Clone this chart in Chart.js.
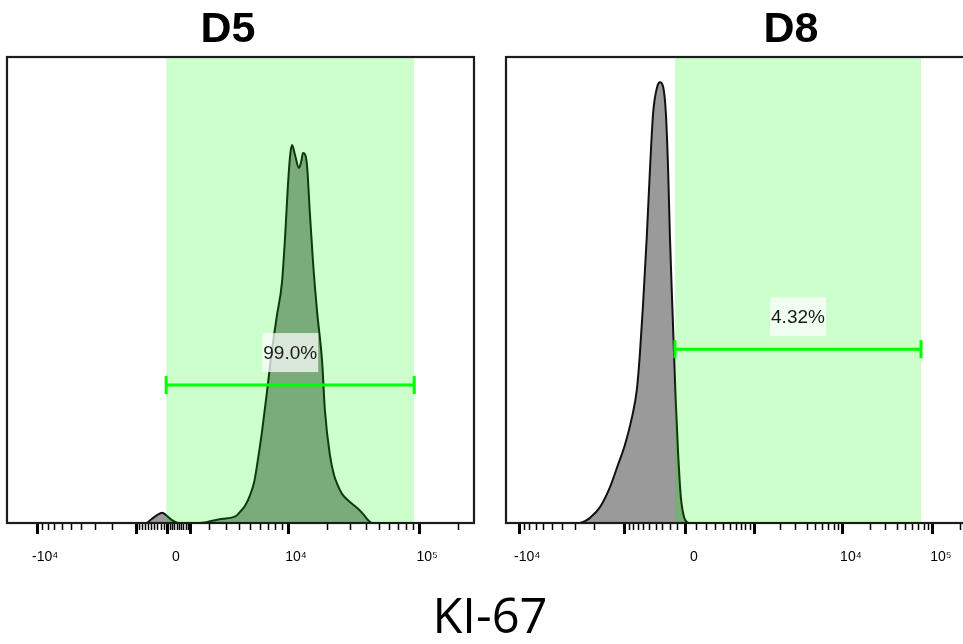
<!DOCTYPE html>
<html>
<head>
<meta charset="utf-8">
<script src="https://cdn.jsdelivr.net/npm/chart.js@4.4.1/dist/chart.umd.min.js"></script>
<style>
  html, body { margin: 0; padding: 0; width: 963px; height: 644px; overflow: hidden; background: #fff; }
  .panel { position: absolute; top: 0; height: 600px; }
  #p1 { left: 0; width: 490px; }
  #p2 { left: 490px; width: 500px; }
  .title { position: absolute; top: 6px; font: bold 43px "Liberation Sans", Arial, sans-serif; line-height: 43px;
           transform: translateX(-50%); white-space: nowrap; color: #000; }
  #xlabel { position: absolute; left: 490px; top: 589px; font: 50px "Open Sans", "Noto Sans", sans-serif; line-height: 50px;
            white-space: nowrap; color: #000; transform-origin: center; transform: translateX(-50%); }
</style>
</head>
<body>
<div class="panel" id="p1"><canvas id="c1" width="490" height="600"></canvas></div>
<div class="panel" id="p2"><canvas id="c2" width="500" height="600"></canvas></div>
<div class="title" id="t1" style="left:228px"></div>
<div class="title" id="t2" style="left:791px"></div>
<div id="xlabel"></div>
<script>
// ---------------- data ----------------
const PANELS = ['D5', 'D8'];
const X_AXIS_TITLE = 'KI-67';

// histogram: display channel (0-1024, biexponential display) and event count (% of axis height)
const D5_CHANNEL = [307, 318, 329, 340, 351, 362, 375, 401, 423, 439, 456, 474, 489, 502, 511, 522,
                    533, 542, 548, 559, 570, 581, 592, 603, 610, 616, 621, 625, 632, 640, 645, 649,
                    654, 658, 664, 671, 680, 691, 697, 708, 717, 724, 735, 752, 768, 781, 792, 800, 818];
const D5_COUNT   = [0, 0.9, 1.7, 2.2, 1.5, 0.6, 0, 0, 0, 0.2, 0.6, 0.9, 1.1, 1.5, 2.4, 3.7,
                    6.0, 8.8, 12.2, 19.5, 28.1, 37.1, 44.6, 51.7, 61.8, 72.5, 79.0, 81.1, 78.8, 76.2, 77.5, 79.4,
                    79.0, 76.6, 66.7, 56.0, 45.3, 34.6, 24.3, 14.6, 10.3, 8.4, 6.2, 4.5, 3.2, 1.9, 0.6, 0, 0];

const D8_CHANNEL = [163, 174, 185, 207, 229, 247, 262, 277, 288, 295, 302, 310, 317, 324, 333, 339,
                    346, 352, 357, 361, 366, 370, 374, 379, 385, 392, 401];
const D8_COUNT   = [0, 0.4, 1.1, 3.4, 7.7, 12.6, 16.8, 22.5, 28.5, 36.5, 47.2, 61.4, 75.8, 88.0, 93.6, 94.6,
                    93.6, 88.0, 75.8, 61.4, 47.2, 36.5, 25.8, 15.0, 5.6, 1.3, 0];

// gates (channel range), gate bar level, gate percentages
const GATE_D5 = [349, 893];
const GATE_D8 = [372, 914];
const GATE_BAR_LEVEL = [29.6, 37.3];
const GATE_PERCENT = ['99.0%', '4.32%'];

// axis ticks (fluorescence values) and labels
const MAJOR_TICK_VALUES = [-10000, -1000, 0, 1000, 10000, 100000];
const LABELED_TICK_VALUES = [-10000, 0, 10000, 100000];
const TICK_LABELS = ['-10\u2074', '0', '10\u2074', '10\u2075'];

// ---------------- axis transform (biexponential display settings per panel) ----------------
const BIEX = [
  { zero: 353, aPos: 125.7, cPos: 2500, aNeg: 110.5, cNeg: 1500 },
  { zero: 396, aPos: 86.1,  cPos: 360,  aNeg: 104.6, cNeg: 600 }
];
function toChannel(v, t) {
  return v >= 0 ? t.zero + t.aPos * Math.asinh(v / t.cPos) : t.zero - t.aNeg * Math.asinh(-v / t.cNeg);
}
function minorTickValues() {
  const out = [];
  for (const d of [100, 1000, 10000, 100000]) {
    for (let m = 1; m <= 9; m++) {
      const v = m * d;
      if (MAJOR_TICK_VALUES.includes(v)) continue;
      out.push(v, -v);
    }
  }
  return out;
}

// ---------------- styling ----------------
const GRAY = '#9a9a9a';
const DARK_GREEN_FILL = '#7aab7a';
const GATE_BG = '#ccffcc';
const GATE_LINE = '#00ff00';
const OUTLINE_OUT = '#111111';
const OUTLINE_IN = '#0b3a0b';
const FONT = '"Liberation Sans", Arial, sans-serif';

function splitColor(lo, outside, inside) {
  return (ctx) => {
    const chart = ctx.chart;
    const a = chart.chartArea;
    if (!a) return outside;
    const p = (chart.scales.x.getPixelForValue(lo) - a.left) / (a.right - a.left);
    const f = Math.min(Math.max(p, 0), 1);
    const g = chart.ctx.createLinearGradient(a.left, 0, a.right, 0);
    g.addColorStop(0, outside); g.addColorStop(f, outside);
    g.addColorStop(f, inside); g.addColorStop(1, inside);
    return g;
  };
}

const panelDecor = {
  id: 'panelDecor',
  afterDatasetsDraw(chart, args, opts) {
    const { ctx, chartArea: a, scales: { x, y } } = chart;
    const cx = (x.getPixelForValue(opts.gate[0]) + x.getPixelForValue(opts.gate[1])) / 2;
    const by = y.getPixelForValue(opts.barLevel);
    const w = 56, h = 39, gap = 13;
    ctx.save();
    ctx.fillStyle = 'rgba(255,255,255,0.72)';
    ctx.fillRect(cx - w / 2, by - gap - h, w, h);
    ctx.font = '19px ' + FONT;
    ctx.fillStyle = '#1a1a1a';
    ctx.textAlign = 'center';
    ctx.textBaseline = 'middle';
    ctx.fillText(opts.text, cx, by - gap - h / 2 + 1);
    ctx.strokeStyle = '#1c1c1c';
    ctx.lineWidth = 2.2;
    ctx.strokeRect(a.left, a.top, a.right - a.left, a.bottom - a.top);
    ctx.restore();
  }
};

function buildPanel(canvasId, idx, channels, counts, gate, padLeft, padRight) {
  const t = BIEX[idx];
  const majors = MAJOR_TICK_VALUES.map(v => ({ v, ch: toChannel(v, t) })).filter(o => o.ch >= 0 && o.ch <= 1024);
  const majorLabels = majors.map(o => {
    const k = LABELED_TICK_VALUES.indexOf(o.v);
    return k >= 0 ? TICK_LABELS[k] : '';
  });
  const minors = minorTickValues().map(v => toChannel(v, t)).filter(ch => ch >= 0 && ch <= 1024).sort((a, b) => a - b);

  const hist = channels.map((c, i) => ({ x: c, y: counts[i] }));
  const level = GATE_BAR_LEVEL[idx];

  return new Chart(document.getElementById(canvasId), {
    type: 'line',
    data: {
      datasets: [
        { // gate bar
          data: [{ x: gate[0], y: level }, { x: gate[1], y: level }],
          borderColor: GATE_LINE, borderWidth: 3, fill: false,
          pointStyle: 'line', rotation: 90, pointRadius: 9, pointBorderWidth: 3,
          pointBorderColor: GATE_LINE, pointBackgroundColor: GATE_LINE, order: 1
        },
        { // histogram
          data: hist,
          borderColor: splitColor(gate[0], OUTLINE_OUT, OUTLINE_IN),
          backgroundColor: splitColor(gate[0], GRAY, DARK_GREEN_FILL),
          borderWidth: 2, fill: 'origin', pointRadius: 0,
          cubicInterpolationMode: 'monotone', order: 2
        },
        { // gate region
          data: [{ x: gate[0], y: 100 }, { x: gate[1], y: 100 }],
          borderWidth: 0, borderColor: 'rgba(0,0,0,0)', backgroundColor: GATE_BG,
          fill: 'origin', pointRadius: 0, order: 3
        }
      ]
    },
    options: {
      responsive: false,
      animation: false,
      events: [],
      layout: { autoPadding: false, padding: { left: padLeft, right: padRight, top: 57, bottom: 37 } },
      plugins: {
        legend: { display: false },
        tooltip: { enabled: false },
        title: { display: false },
        panelDecor: { gate, barLevel: level, text: GATE_PERCENT[idx] }
      },
      scales: {
        x: {
          type: 'linear', min: 0, max: 1024, bounds: 'data', position: 'bottom', weight: 1,
          afterBuildTicks: s => { s.ticks = majors.map(o => ({ value: o.ch })); },
          afterFit: s => { s.height = 40; },
          grid: { display: true, drawOnChartArea: false, drawTicks: true, tickLength: 11, tickWidth: 3, tickColor: '#000' },
          border: { display: false },
          ticks: {
            autoSkip: false, maxRotation: 0, minRotation: 0, padding: 15, labelOffset: 8,
            color: '#000', font: { family: FONT, size: 14 },
            callback: (v, i) => majorLabels[i]
          }
        },
        x2: {
          type: 'linear', min: 0, max: 1024, bounds: 'data', position: 'bottom', weight: 0,
          afterBuildTicks: s => { s.ticks = minors.map(ch => ({ value: ch })); },
          afterFit: s => { s.height = 0; },
          grid: { display: true, drawOnChartArea: false, drawTicks: true, tickLength: 7, tickWidth: 1.5, tickColor: '#000' },
          border: { display: false },
          ticks: { display: false, autoSkip: false }
        },
        y: { min: 0, max: 100, display: false }
      }
    },
    plugins: [panelDecor]
  });
}

document.getElementById('t1').textContent = PANELS[0];
document.getElementById('t2').textContent = PANELS[1];
const xl = document.getElementById('xlabel');
xl.textContent = X_AXIS_TITLE;
const w = xl.getBoundingClientRect().width;
xl.style.transform = 'translateX(-50%) scaleX(' + (115 / w).toFixed(3) + ')';

buildPanel('c1', 0, D5_CHANNEL, D5_COUNT, GATE_D5, 7, 16);
buildPanel('c2', 1, D8_CHANNEL, D8_COUNT, GATE_D8, 16, 19);
</script>
</body>
</html>
